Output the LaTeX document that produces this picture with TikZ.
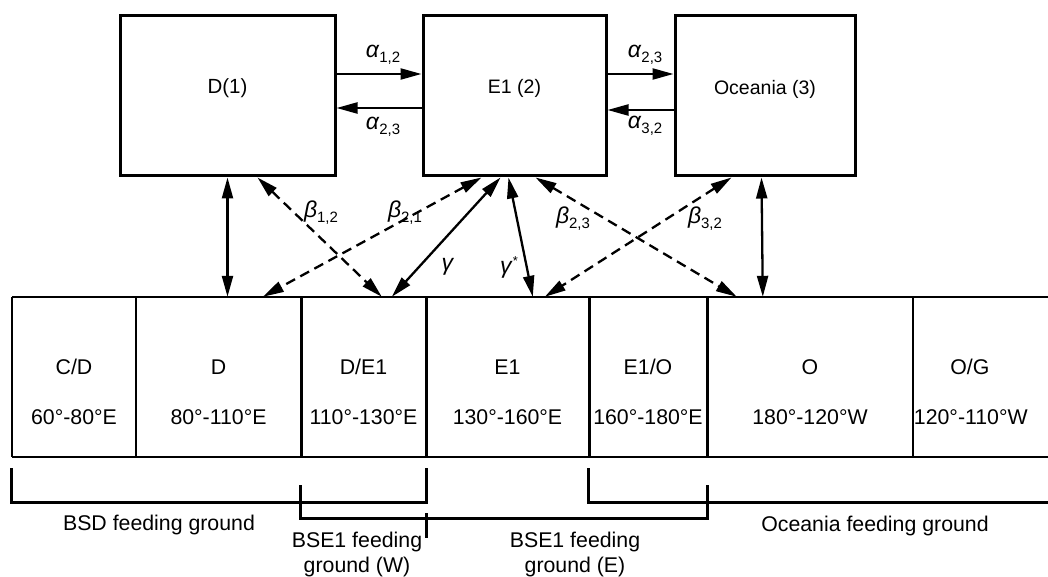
\documentclass[tikz,border=0pt]{standalone}
\usepackage{fontspec}
\setmainfont{Liberation Sans}
\usetikzlibrary{arrows.meta}
\newcommand{\gsub}[2]{\textit{#1}\raisebox{-5pt}{\fontsize{15}{15}\selectfont #2}}
\begin{document}
\begin{tikzpicture}[x=1pt,y=-1pt,
 box/.style={draw,line width=3pt,inner sep=0pt,minimum height=160pt},
 btext/.style={font=\fontsize{19.5}{21}\selectfont,inner sep=0pt},
 cell/.style={inner sep=0pt,minimum height=160pt},
 ctext/.style={font=\fontsize{21.3}{23}\selectfont,inner sep=0pt},
 arr/.style={line width=2.3pt,{Triangle[length=21pt,width=11pt]}-{Triangle[length=21pt,width=11pt]}},
 arrone/.style={line width=2.3pt,-{Triangle[length=21pt,width=11pt]}},
 dsh/.style={dash pattern=on 10pt off 6pt},
 glbl/.style={font=\fontsize{23}{24}\selectfont,inner sep=0pt},
 brk/.style={line width=3pt},
 blab/.style={font=\fontsize{21.3}{25}\selectfont,align=center,inner sep=0pt},
 sline/.style={line width=2.2pt},
 tdiv/.style={line width=3.2pt}]
\useasboundingbox (0,0) rectangle (1048,577);
% top boxes
\node[box,minimum width=215pt] (D) at (227.5,96) {};
\node[box,minimum width=183pt] (E) at (514.5,96) {};
\node[box,minimum width=180pt] (O) at (765,96) {};
\node[btext,font=\fontsize{20.5}{22}\selectfont] (Dt) at ([yshift=8pt]D.center) {D(1)};
\node[btext] (Et) at ([yshift=8pt]E.center) {E1 (2)};
\node[btext] (Ot) at ([yshift=7pt]O.center) {Oceania (3)};
% strip cells
\node[cell,minimum width=124pt] (cd) at (74,377) {};
\node[cell,minimum width=165pt] (d) at (218.5,377) {};
\node[cell,minimum width=125pt] (de) at (363.5,377) {};
\node[cell,minimum width=163pt] (e1) at (507.5,377) {};
\node[cell,minimum width=118pt] (eo) at (648,377) {};
\node[cell,minimum width=206pt] (o) at (810,377) {};
\node[cell,minimum width=150pt] (og) at (988,377) {};
\draw[sline] (cd.north west) -- (og.north east);
\draw[sline] (cd.south west) -- (og.south east);
\draw[sline] (cd.north west) -- (cd.south west);
\draw[sline] (cd.north east) -- (cd.south east);
\draw[tdiv] (d.north east) -- (d.south east);
\draw[tdiv] (de.north east) -- (de.south east);
\draw[tdiv] (e1.north east) -- (e1.south east);
\draw[tdiv] (eo.north east) -- (eo.south east);
\draw[sline] (o.north east) -- (o.south east);
% cell texts
\node[ctext] (cdn) at ([yshift=10pt]cd.center) {C/D};
\node[ctext] (cdr) at ([yshift=-40pt]cd.center) {60°-80°E};
\node[ctext] (dn) at ([yshift=10pt]d.center) {D};
\node[ctext] (dr) at ([yshift=-40pt]d.center) {80°-110°E};
\node[ctext] (den) at ([yshift=10pt]de.center) {D/E1};
\node[ctext] (der) at ([yshift=-40pt]de.center) {110°-130°E};
\node[ctext] (e1n) at ([yshift=10pt]e1.center) {E1};
\node[ctext] (e1r) at ([yshift=-40pt]e1.center) {130°-160°E};
\node[ctext] (eon) at ([yshift=10pt]eo.center) {E1/O};
\node[ctext] (eor) at ([yshift=-40pt]eo.center) {160°-180°E};
\node[ctext] (on) at ([yshift=10pt]o.center) {O};
\node[ctext] (or) at ([yshift=-40pt]o.center) {180°-120°W};
\node[ctext] (ogn) at ([xshift=57pt,yshift=10pt]og.west) {O/G};
\node[ctext] (ogr) at ([xshift=58pt,yshift=-40pt]og.west) {120°-110°W};
% alpha arrows
\draw[arrone] ([yshift=22pt]D.east) -- ([yshift=22pt]E.west);
\draw[arrone] ([yshift=-12pt]E.west) -- ([yshift=-12pt]D.east);
\draw[arrone] ([yshift=22pt]E.east) -- ([yshift=22pt]O.west);
\draw[arrone] ([yshift=-14pt]O.west) -- ([yshift=-14pt]E.east);
\node[glbl] (a12) at (383,55) {\gsub{α}{1,2}};
\node[glbl] (a23l) at (383,127) {\gsub{α}{2,3}};
\node[glbl] (a23r) at (645,55) {\gsub{α}{2,3}};
\node[glbl] (a32) at (645,126) {\gsub{α}{3,2}};
% links to strip
\draw[arr] (D.south) -- (D.south |- d.north);
\draw[arr,dsh] ([xshift=30pt]D.south) -- ([xshift=81pt]de.north west);
\draw[arr,dsh] ([xshift=60pt]E.south west) -- ([xshift=127pt]d.north west);
\draw[arr] ([xshift=79pt]E.south west) -- ([xshift=91pt]de.north west);
\draw[arr] ([xshift=87pt]E.south west) -- ([xshift=107pt]e1.north west);
\draw[arr,dsh] ([xshift=114pt]E.south west) -- ([xshift=30pt]o.north west);
\draw[arr,dsh] ([xshift=58pt]O.south west) -- ([xshift=119pt]e1.north west);
\draw[arr] ([xshift=88pt]O.south west) -- ([xshift=56pt]o.north west);
\node[glbl] (b12) at (321,213) {\gsub{β}{1,2}};
\node[glbl] (b21) at (405,213) {\gsub{β}{2,1}};
\node[glbl] (g) at (448,267) {\textit{γ}};
\node[glbl] (gs) at (509,267) {\textit{γ}\raisebox{8pt}{\fontsize{13}{13}\selectfont *}};
\node[glbl] (b23) at (573,219) {\gsub{β}{2,3}};
\node[glbl] (b32) at (705,219) {\gsub{β}{3,2}};
% brackets
\draw[brk] ([yshift=-11pt]cd.south west) -- ([yshift=-45pt]cd.south west) -- ([yshift=-45pt]de.south east) -- ([yshift=-11pt]de.south east);
\draw[brk] ([yshift=-28pt]de.south west) -- ([yshift=-61pt]de.south west) -- ([yshift=-61pt]eo.south east) -- ([yshift=-28pt]eo.south east);
\draw[brk] ([yshift=-56pt]de.south east) -- ([yshift=-81pt]de.south east);
\draw[brk] ([yshift=-11pt]eo.south west) -- ([yshift=-45pt]eo.south west) -- ([yshift=-45pt]og.south east);
\node[blab] (lbsd) at (159,525) {BSD feeding ground};
\node[blab] (lbw) at (357,554.5) {BSE1 feeding\\ground (W)};
\node[blab] (lbe) at (575,554.5) {BSE1 feeding\\ground (E)};
\node[blab] (loc) at (875,526) {Oceania feeding ground};
\end{tikzpicture}
\end{document}
